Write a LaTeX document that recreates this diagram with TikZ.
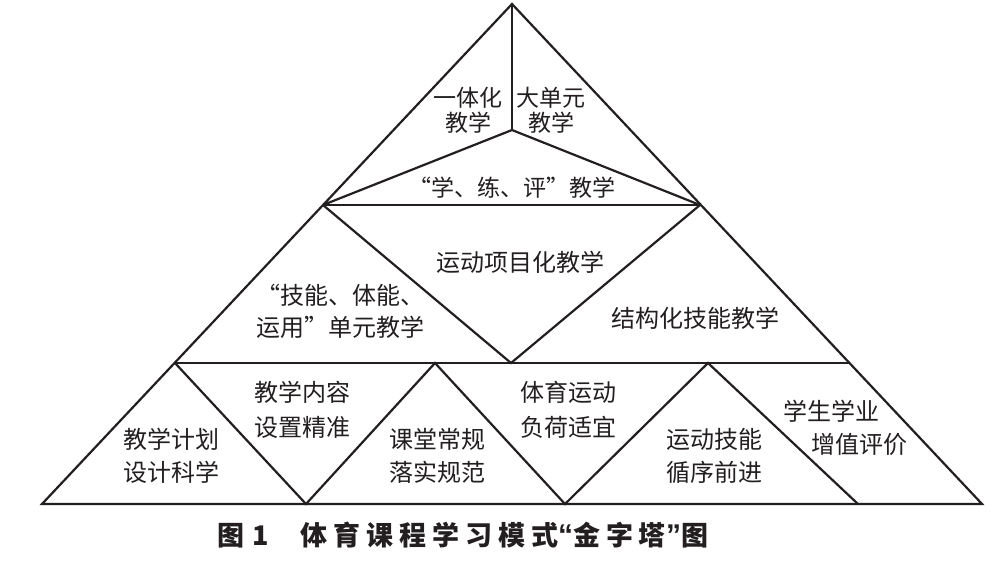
\documentclass[tikz,border=0pt]{standalone}
\usepackage{fontspec}
\setmainfont{Noto Sans CJK SC}
\newfontfamily\latq{Liberation Sans}
\definecolor{ink}{HTML}{231F20}
\newcommand{\capq}[1]{{\latq\bfseries\fontsize{30}{30}\selectfont #1}}
\begin{document}
\begin{tikzpicture}[x=1pt,y=-1pt,line width=2.2pt,
  lbl/.style={font=\fontsize{24}{33}\selectfont, align=center, inner sep=0pt, text=ink},
  toplbl/.style={font=\fontsize{23}{25}\selectfont, align=center, inner sep=0pt, text=ink},
  edge/.style={draw=ink}]
\useasboundingbox (0,0) rectangle (1004,565);
\fill[white] (0,0) rectangle (1004,565);
% corners
\coordinate (A) at (512,4);
\coordinate (M) at (512,130);
\coordinate (L1) at (323,205);
\coordinate (R1) at (700,205);
\coordinate (L2) at (175,363);
\coordinate (R2) at (849,363);
\coordinate (C2) at (511,363);
\coordinate (BL) at (42,504);
\coordinate (BR) at (982,504);
\coordinate (b1) at (306,504);
\coordinate (t1) at (435,363);
\coordinate (b2) at (565,504);
\coordinate (t2) at (708,363);
\coordinate (b3) at (858,504);
% lines
\draw[edge] (A) -- (BL) -- (BR) -- cycle;
\draw[edge] (A) -- (M);
\draw[edge] (L1) -- (M) -- (R1);
\draw[edge] (L1) -- (R1);
\draw[edge] (L2) -- (R2);
\draw[edge] (L1) -- (C2) -- (R1);
\draw[edge] (L2) -- (b1) -- (t1) -- (b2) -- (t2) -- (b3);
% labels
\node[toplbl] (n1) at (468,110) {一体化\\教学};
\node[toplbl] (n2) at (551,110) {大单元\\教学};
\node[toplbl] (n3) at (512,188) {“学、练、评”教学};
\node[lbl] (n4) at (520,262) {运动项目化教学};
\node[lbl,font=\fontsize{24}{32}\selectfont] (n5) at (340,311) {“技能、体能、\\运用”单元教学};
\node[lbl] (n6) at (695,318) {结构化技能教学};
\node[lbl] (n7) at (171,456) {教学计划\\设计科学};
\node[lbl,font=\fontsize{24}{35}\selectfont] (n8) at (302,410) {教学内容\\设置精准};
\node[lbl] (n9) at (437,456) {课堂常规\\落实规范};
\node[lbl,font=\fontsize{24}{35}\selectfont] (n10) at (568,410) {体育运动\\负荷适宜};
\node[lbl] (n11) at (714,456) {运动技能\\循序前进};
\node[lbl,align=left,anchor=west] (n12) at (782,428) {学生学业\\\hspace*{28pt}增值评价};
% caption
\node[anchor=west,inner sep=0pt,text=ink,font=\fontsize{27}{30}\selectfont\bfseries] (cap) at (216,535)
  {图\hspace{8pt}1\hspace{32pt}{\addfontfeature{LetterSpace=22}体育课程学习模式}\capq{“}{\addfontfeature{LetterSpace=22}金字塔}\capq{”}图};
\end{tikzpicture}
\end{document}
